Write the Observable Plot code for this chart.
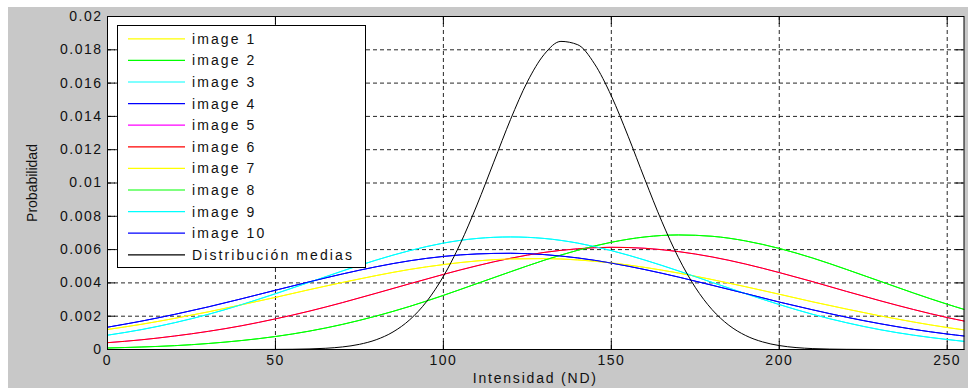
<!DOCTYPE html>
<html><head><meta charset="utf-8">
<script src="https://cdn.jsdelivr.net/npm/d3@7"></script>
<script src="https://cdn.jsdelivr.net/npm/@observablehq/plot@0.6"></script>
<style>
body{margin:0;background:#fff;}
#wrap{position:relative;width:968px;height:388px;overflow:hidden;background:#fff;font-family:"Liberation Sans",Arial,sans-serif;}
#grey{position:absolute;left:8px;top:7px;width:960px;height:381px;background:#c8c8c8;}
#chart{position:absolute;left:0;top:0;}
.lbl{position:absolute;font-size:14px;color:#111;white-space:nowrap;line-height:14px;}
#legend{position:absolute;left:117px;top:25px;width:249px;height:243px;background:#fff;border:1px solid #000;box-sizing:border-box;}
</style></head>
<body>
<div id="wrap"><div id="grey"></div><div id="chart"></div></div>
<script>
// x positions of the readings (intensity)
const xs = [0,10,20,30,40,50,60,70,80,90,100,110,120,130,140,150,160,170,180,190,200,210,220,230,240,250,255];
// readings per visible curve (probability)
const yellowVals = [0.00120,0.00151,0.00187,0.00226,0.00269,0.00313,0.00359,0.00403,0.00444,0.00481,0.00510,0.00532,0.00544,0.00546,0.00538,0.00520,0.00493,0.00459,0.00420,0.00377,0.00332,0.00286,0.00243,0.00202,0.00165,0.00132,0.00118];
const greenVals  = [0.00009,0.00015,0.00023,0.00036,0.00054,0.00078,0.00110,0.00151,0.00201,0.00259,0.00325,0.00396,0.00467,0.00536,0.00596,0.00644,0.00676,0.00688,0.00680,0.00652,0.00607,0.00549,0.00481,0.00410,0.00339,0.00272,0.00241];
const cyanVals   = [0.00086,0.00119,0.00161,0.00211,0.00270,0.00335,0.00403,0.00472,0.00537,0.00594,0.00639,0.00667,0.00676,0.00667,0.00639,0.00594,0.00537,0.00472,0.00403,0.00335,0.00270,0.00211,0.00161,0.00119,0.00086,0.00060,0.00049];
const blueVals   = [0.00134,0.00170,0.00211,0.00256,0.00305,0.00356,0.00406,0.00454,0.00497,0.00533,0.00559,0.00574,0.00578,0.00570,0.00550,0.00519,0.00480,0.00435,0.00386,0.00336,0.00285,0.00238,0.00194,0.00155,0.00121,0.00093,0.00081];
const redVals    = [0.00041,0.00058,0.00081,0.00109,0.00143,0.00184,0.00230,0.00282,0.00338,0.00395,0.00451,0.00503,0.00548,0.00583,0.00605,0.00614,0.00608,0.00588,0.00556,0.00513,0.00462,0.00407,0.00349,0.00293,0.00240,0.00192,0.00171];
// mean distribution (black)
const xsMean = [0,40,50,55,60,65,70,75,80,85,90,95,100,105,110,115,120,125,130,135,140,145,150,155,160,165,170,175,180,185,190,195,200,205,210,215,220,230,255];
const meanVals = [0,0,0.000006,0.000014,0.000033,0.000074,0.000155,0.00031,0.000587,0.001053,0.001789,0.002879,0.004391,0.006342,0.00868,0.011251,0.013818,0.016077,0.017721,0.018505,0.018305,0.017155,0.015231,0.012811,0.010208,0.007706,0.005509,0.003732,0.002395,0.001457,0.000839,0.000458,0.000237,0.000116,0.000054,0.000024,0.00001,0,0];

const seriesNames  = ["image 1","image 2","image 3","image 4","image 5","image 6","image 7","image 8","image 9","image 10"];
const seriesColors = ["#ffff00","#00ff00","#00ffff","#0000ff","#ff00ff","#ff0000","#ffff00","#00ff00","#00ffff","#0000ff"];
const seriesValues = [yellowVals,greenVals,cyanVals,blueVals,redVals,redVals,yellowVals,greenVals,cyanVals,blueVals];
const meanName = "Distribución medias";
const meanColor = "#000000";

const xTicks = [0,50,100,150,200,250];
const yTicks = [0,0.002,0.004,0.006,0.008,0.01,0.012,0.014,0.016,0.018,0.02];
const xLabel = "Intensidad (ND)";
const yLabel = "Probabilidad";

const W = 968, H = 388, mT = 16, mB = 39, mL = 107, mR = 4.5;
const innerW = W - mL - mR, innerH = H - mT - mB;
const tk = 8;

const lineMarks = seriesValues.map((vals, i) =>
  Plot.line(xs.map((x, j) => ({x, y: vals[j]})), {x: "x", y: "y", stroke: seriesColors[i], strokeWidth: 1, curve: "monotone-x"})
);
lineMarks.push(Plot.line(xsMean.map((x, j) => ({x, y: meanVals[j]})), {x: "x", y: "y", stroke: meanColor, strokeWidth: 1, curve: "monotone-x"}));

const chart = Plot.plot({
  width: W, height: H,
  marginTop: mT, marginBottom: mB, marginLeft: mL, marginRight: mR,
  style: {background: "transparent", fontFamily: "'Liberation Sans', Arial, sans-serif", fontSize: "14px", letterSpacing: "1.5px"},
  x: {domain: [0, 255]},
  y: {domain: [0, 0.02]},
  marks: [
    Plot.frame({fill: "white", stroke: null}),
    Plot.gridX(xTicks.filter(d => d > 0), {stroke: "#000", strokeOpacity: 0.85, strokeDasharray: "4,3"}),
    Plot.gridY(yTicks.filter(d => d > 0 && d < 0.02), {stroke: "#000", strokeOpacity: 0.85, strokeDasharray: "4,3"}),
    Plot.tickX(xTicks, {x: d => d, insetTop: innerH - tk, stroke: "#000", strokeOpacity: 1}),
    Plot.tickX(xTicks, {x: d => d, insetBottom: innerH - tk, stroke: "#000", strokeOpacity: 1}),
    Plot.tickY(yTicks, {y: d => d, insetRight: innerW - tk, stroke: "#000", strokeOpacity: 1}),
    Plot.tickY(yTicks, {y: d => d, insetLeft: innerW - tk, stroke: "#000", strokeOpacity: 1}),
    ...lineMarks,
    Plot.axisX(xTicks, {tickSize: 0, tickPadding: 6, label: null, fill: "#111", fontSize: 14}),
    Plot.axisY(yTicks, {tickSize: 0, tickPadding: 5, label: null, fill: "#111", fontSize: 14, tickFormat: d => String(+d.toFixed(3))}),
    Plot.frame({stroke: "#000", strokeWidth: 1})
  ]
});
document.getElementById("chart").appendChild(chart);

const wrap = document.getElementById("wrap");
// axis titles
const xl = document.createElement("div");
xl.className = "lbl"; xl.textContent = xLabel;
xl.style.letterSpacing = "1.8px";
xl.style.left = (mL + innerW / 2) + "px"; xl.style.top = "371px"; xl.style.transform = "translateX(-50%)";
wrap.appendChild(xl);
const yl = document.createElement("div");
yl.className = "lbl"; yl.textContent = yLabel;
yl.style.left = "32px"; yl.style.top = (mT + innerH / 2) + "px";
yl.style.transform = "translate(-50%,-50%) rotate(-90deg)";
wrap.appendChild(yl);

// legend box
const leg = document.createElement("div");
leg.id = "legend";
const names = [...seriesNames, meanName];
const cols = [...seriesColors, meanColor];
const ns = "http://www.w3.org/2000/svg";
const svg = document.createElementNS(ns, "svg");
svg.setAttribute("width", 247); svg.setAttribute("height", 241);
svg.style.position = "absolute"; svg.style.left = "0"; svg.style.top = "0";
names.forEach((n, i) => {
  const cy = 12.8 + i * 21.6;
  const l = document.createElementNS(ns, "line");
  l.setAttribute("x1", 10); l.setAttribute("x2", 67);
  l.setAttribute("y1", cy); l.setAttribute("y2", cy);
  l.setAttribute("stroke", cols[i]); l.setAttribute("stroke-width", 1.2);
  svg.appendChild(l);
  const t = document.createElementNS(ns, "text");
  t.setAttribute("x", 74); t.setAttribute("y", cy);
  t.setAttribute("dy", "0.35em");
  t.setAttribute("font-size", 14);
  t.setAttribute("font-family", "'Liberation Sans', Arial, sans-serif");
  t.setAttribute("fill", "#111");
  t.style.letterSpacing = "2.1px";
  t.textContent = n;
  svg.appendChild(t);
});
leg.appendChild(svg);
wrap.appendChild(leg);
</script>
</body></html>
